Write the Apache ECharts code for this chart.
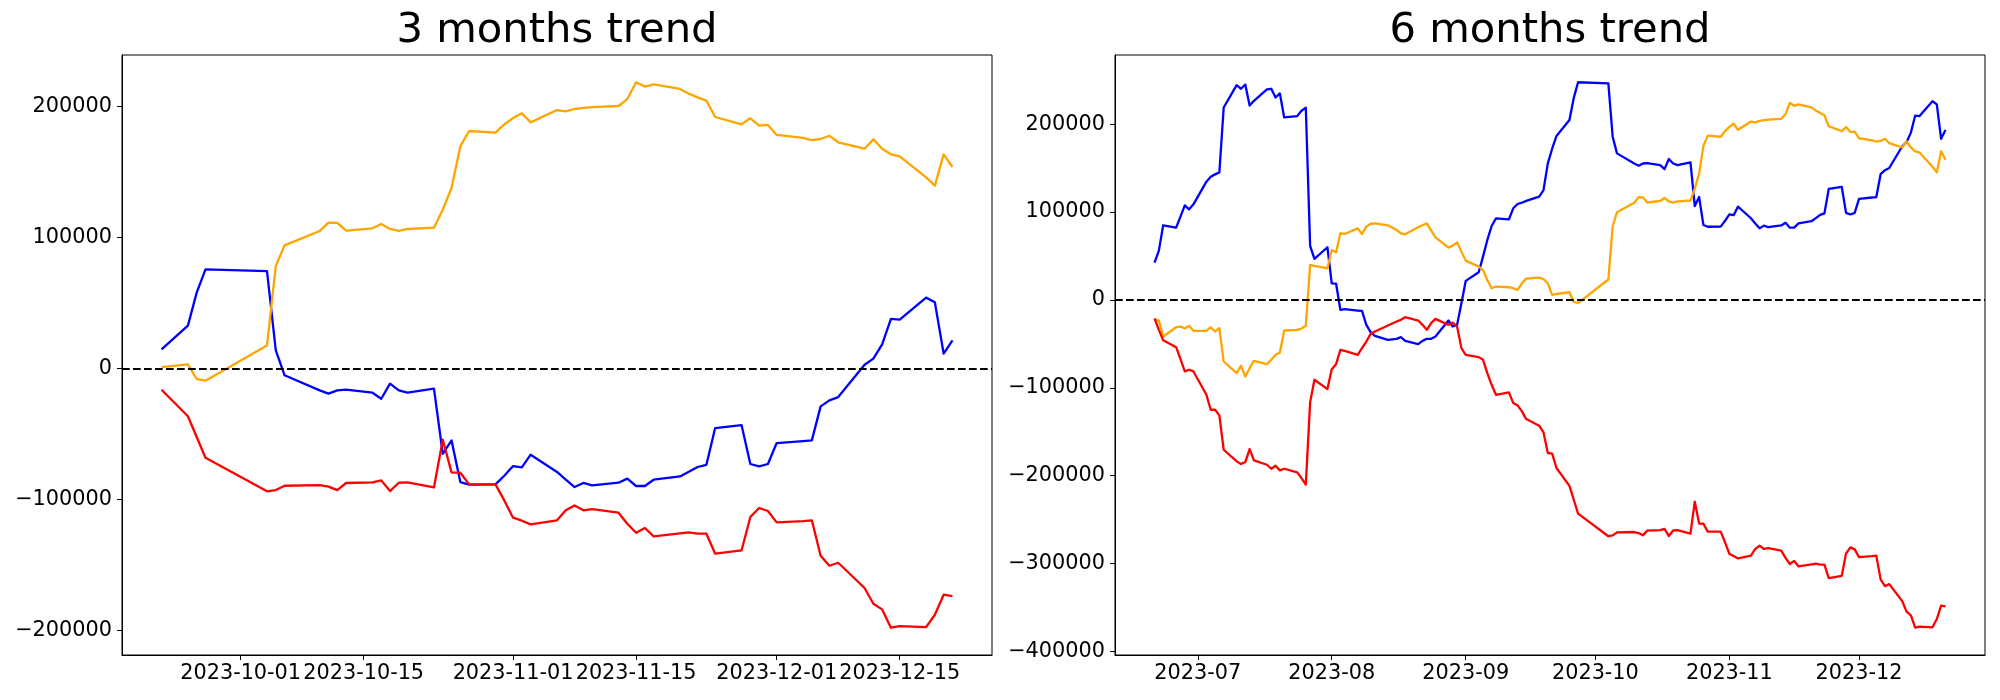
<!DOCTYPE html>
<html>
<head>
<meta charset="utf-8">
<script src="https://cdn.jsdelivr.net/npm/echarts@6/dist/echarts.min.js"></script>
<style>
html,body{margin:0;padding:0;background:#ffffff;}
#chart{width:2000px;height:700px;}
</style>
</head>
<body>
<div id="chart"></div>
<script>
// ---------------- data ----------------
const titles = ['3 months trend', '6 months trend'];

const dates3m = ['2023-09-22','2023-09-25','2023-09-26','2023-09-27','2023-10-04','2023-10-05','2023-10-06','2023-10-10','2023-10-11','2023-10-12','2023-10-13','2023-10-16','2023-10-17','2023-10-18','2023-10-19','2023-10-20','2023-10-23','2023-10-24','2023-10-25','2023-10-26','2023-10-27','2023-10-30','2023-10-31','2023-11-01','2023-11-02','2023-11-03','2023-11-06','2023-11-07','2023-11-08','2023-11-09','2023-11-10','2023-11-13','2023-11-14','2023-11-15','2023-11-16','2023-11-17','2023-11-20','2023-11-21','2023-11-22','2023-11-23','2023-11-24','2023-11-27','2023-11-28','2023-11-29','2023-11-30','2023-12-01','2023-12-04','2023-12-05','2023-12-06','2023-12-07','2023-12-08','2023-12-11','2023-12-12','2023-12-13','2023-12-14','2023-12-15','2023-12-18','2023-12-19','2023-12-20','2023-12-21'];

const blue3m = [14500,32600,57800,75600,74300,13700,-5300,-16800,-19300,-16800,-16300,-18600,-23200,-11700,-16800,-18600,-15500,-65200,-55000,-86800,-88800,-88600,-82000,-74600,-75600,-65900,-79100,-85000,-90600,-87500,-89300,-87300,-84200,-89800,-89800,-85000,-82500,-78900,-75300,-73600,-45600,-43300,-73000,-74800,-73000,-57000,-55500,-55000,-29000,-24400,-21900,2800,7400,18300,37700,37200,54000,50400,11200,21400];

const orange3m = [1000,3000,-8100,-9400,17500,78100,93900,104900,111200,111000,105100,106900,110200,106400,104900,106400,107400,121000,137700,169500,181200,179900,186300,191100,194700,187800,197200,196200,198000,198800,199500,200300,205600,218400,215100,216800,213300,209700,206900,204400,191900,186300,190900,185300,185800,178200,175900,174300,175100,177600,172600,167700,174800,167700,163400,161900,145800,139500,163400,153700];

const red3m = [-16300,-36600,-52400,-68200,-93900,-92900,-89600,-89100,-90300,-92900,-87500,-87000,-85500,-93700,-87300,-87000,-90900,-54500,-79400,-79700,-88600,-88600,-100800,-114000,-116300,-119100,-116000,-108400,-104600,-108400,-107400,-110200,-118600,-125500,-121900,-128300,-126000,-125200,-126200,-126200,-141500,-139000,-113500,-106600,-108900,-117600,-116600,-116000,-143000,-150700,-148400,-167700,-179700,-184000,-198000,-196700,-197500,-188100,-172800,-173800];

const dates6m = ['2023-06-21','2023-06-22','2023-06-23','2023-06-26','2023-06-27','2023-06-28','2023-06-29','2023-06-30',
'2023-07-03','2023-07-04','2023-07-05','2023-07-06','2023-07-07','2023-07-10','2023-07-11','2023-07-12','2023-07-13','2023-07-14','2023-07-17','2023-07-18','2023-07-19','2023-07-20','2023-07-21','2023-07-24','2023-07-25','2023-07-26','2023-07-27','2023-07-28','2023-07-31',
'2023-08-01','2023-08-02','2023-08-03','2023-08-04','2023-08-07','2023-08-08','2023-08-09','2023-08-10','2023-08-11','2023-08-14','2023-08-16','2023-08-17','2023-08-18','2023-08-21','2023-08-22','2023-08-23','2023-08-24','2023-08-25','2023-08-28','2023-08-29','2023-08-30','2023-08-31',
'2023-09-01','2023-09-04','2023-09-05','2023-09-06','2023-09-07','2023-09-08','2023-09-11','2023-09-12','2023-09-13','2023-09-14','2023-09-15','2023-09-18','2023-09-19','2023-09-20','2023-09-21',
'2023-09-22','2023-09-25','2023-09-26','2023-09-27','2023-10-04','2023-10-05','2023-10-06','2023-10-10','2023-10-11','2023-10-12','2023-10-13','2023-10-16','2023-10-17','2023-10-18','2023-10-19','2023-10-20','2023-10-23','2023-10-24','2023-10-25','2023-10-26','2023-10-27','2023-10-30','2023-10-31','2023-11-01','2023-11-02','2023-11-03','2023-11-06','2023-11-07','2023-11-08','2023-11-09','2023-11-10','2023-11-13','2023-11-14','2023-11-15','2023-11-16','2023-11-17','2023-11-20','2023-11-21','2023-11-22','2023-11-23','2023-11-24','2023-11-27','2023-11-28','2023-11-29','2023-11-30','2023-12-01','2023-12-04','2023-12-05','2023-12-06','2023-12-07','2023-12-08','2023-12-11','2023-12-12','2023-12-13','2023-12-14','2023-12-15','2023-12-18','2023-12-19','2023-12-20','2023-12-21'];

const blue6m = [42400,56100,84900,82200,94700,107600,103000,108700,
134500,140200,142800,145100,218900,244300,240200,245100,221200,226500,239400,240200,230300,234900,207600,209100,215200,218600,61400,46600,59900,
18900,18600,-11400,-10600,-12100,-12500,-28400,-36700,-40900,-45500,-44300,-42400,-46600,-50400,-46600,-44300,-44300,-41700,-23500,-30300,-28400,-3800,
21600,31400,49200,68200,84100,92800,91700,104200,109100,110600,112700,117400,125000,155300,172000,
186500,204600,229800,247600,246300,185700,166700,155200,152700,155200,155700,153400,148800,160300,155200,153400,156500,106800,117000,85200,83200,83400,90000,97400,96400,106100,92900,87000,81400,84500,82700,84700,87800,82200,82200,87000,89500,93100,96700,98400,126400,128700,99000,97200,99000,115000,116500,117000,143000,147600,150100,174800,179400,190300,209700,209200,226000,222400,183200,193400];

const orange6m = [-22000,-23500,-41700,-31100,-30300,-32600,-29500,-35200,
-35200,-31100,-36000,-32200,-70100,-83300,-75000,-87100,-77700,-69300,-73100,-68200,-62500,-59800,-34800,-34100,-32600,-29500,39800,38600,36000,
56800,54200,75800,75000,81400,75000,83300,86700,87100,84900,79500,75800,74600,82600,84900,87100,79200,71200,59500,61700,65500,54900,
44700,37900,34100,22700,13300,15200,14400,13300,11400,18900,24200,25400,23500,18900,5700,
6700,8700,-2400,-3700,23200,83800,99600,110600,116900,116700,110800,112600,115900,112100,110600,112100,113100,126700,143400,175200,186900,185600,192000,196800,200400,193500,202900,201900,203700,204500,205200,206000,211300,224100,220800,222500,219000,215400,212600,210100,197600,192000,196600,191000,191500,183900,181600,180000,180800,183300,178300,173400,180500,173400,169100,167600,151500,145200,169100,159400];

const red6m = [-21000,-34100,-46000,-53800,-67400,-81400,-79500,-81400,
-108000,-125000,-125000,-131400,-170500,-183700,-186800,-184500,-169700,-182600,-187600,-192100,-188700,-194000,-192100,-196300,-202700,-210100,-116300,-90900,-101500,
-78800,-73100,-56800,-58000,-62500,-55000,-47400,-38600,-36000,-29200,-24600,-22700,-19700,-23500,-28400,-34100,-26500,-21600,-28400,-25800,-30300,-54900,
-62500,-65100,-68200,-83300,-96600,-108000,-105300,-117400,-120100,-126900,-135600,-143100,-150800,-174200,-175000,
-191300,-211600,-227400,-243200,-268900,-267900,-264600,-264100,-265300,-267900,-262500,-262000,-260500,-268700,-262300,-262000,-265900,-229500,-254400,-254700,-263600,-263600,-275800,-289000,-291300,-294100,-291000,-283400,-279600,-283400,-282400,-285200,-293600,-300500,-296900,-303300,-301000,-300200,-301200,-301200,-316500,-314000,-288500,-281600,-283900,-292600,-291600,-291000,-318000,-325700,-323400,-342700,-354700,-359000,-373000,-371700,-372500,-363100,-347800,-348800];

const xTicks3m = ['2023-10-01','2023-10-15','2023-11-01','2023-11-15','2023-12-01','2023-12-15'];
const xTicks6m = ['2023-07-01','2023-08-01','2023-09-01','2023-10-01','2023-11-01','2023-12-01'];
const yTicks3m = [-200000,-100000,0,100000,200000];
const yTicks6m = [-400000,-300000,-200000,-100000,0,100000,200000];

// ---------------- helpers ----------------
const FONT = 'DejaVu Sans';
function ts(s){ return Date.parse(s + 'T00:00:00Z'); }
function pairs(dates, vals){ return dates.map(function(d,i){ return [ts(d), vals[i]]; }); }
function xRange(dates){
  const a = ts(dates[0]), b = ts(dates[dates.length-1]);
  const m = (b - a) * 0.05;
  return [a - m, b + m];
}
function yRange(arrs){
  let lo = Infinity, hi = -Infinity;
  arrs.forEach(function(a){ a.forEach(function(v){ if (v < lo) lo = v; if (v > hi) hi = v; }); });
  const m = (hi - lo) * 0.05;
  return [lo - m, hi + m];
}
function yFmt(v){ return v < 0 ? '\u2212' + Math.abs(v) : String(v); }
function dayFmt(v){ return new Date(v).toISOString().slice(0,10); }
function monFmt(v){ return new Date(v).toISOString().slice(0,7); }

const GRIDS = [
  {left:122, top:55, width:870, height:600},
  {left:1115, top:55, width:870, height:600}
];

const panels = [
  {dates:dates3m, blue:blue3m, orange:orange3m, red:red3m, xt:xTicks3m, yt:yTicks3m, fmt:dayFmt},
  {dates:dates6m, blue:blue6m, orange:orange6m, red:red6m, xt:xTicks6m, yt:yTicks6m, fmt:monFmt}
];

const labelStyle = {fontFamily:FONT, fontSize:20.8, color:'#000000'};

const option = {
  animation:false,
  backgroundColor:'#ffffff',
  grid: GRIDS.map(function(g){ return Object.assign({show:true, borderColor:'#000000', borderWidth:1, backgroundColor:'transparent', containLabel:false}, g); }),
  xAxis: panels.map(function(p, i){
    const r = xRange(p.dates);
    const tv = p.xt.map(ts);
    return {
      type:'value', gridIndex:i, min:r[0], max:r[1], scale:true,
      axisLine:{show:true, onZero:false, lineStyle:{color:'#000000', width:1}},
      axisTick:{show:true, length:5, inside:false, lineStyle:{color:'#000000', width:1}, customValues:tv},
      axisLabel:Object.assign({show:true, margin:8, lineHeight:20.8, customValues:tv, formatter:p.fmt, hideOverlap:false, showMinLabel:true, showMaxLabel:true}, labelStyle),
      splitLine:{show:false}, minorTick:{show:false}
    };
  }),
  yAxis: panels.map(function(p, i){
    const r = yRange([p.blue, p.orange, p.red]);
    return {
      type:'value', gridIndex:i, min:r[0], max:r[1], scale:true,
      axisLine:{show:true, onZero:false, lineStyle:{color:'#000000', width:1}},
      axisTick:{show:true, length:5, inside:false, lineStyle:{color:'#000000', width:1}, customValues:p.yt},
      axisLabel:Object.assign({show:true, margin:10, customValues:p.yt, formatter:yFmt, showMinLabel:true, showMaxLabel:true}, labelStyle),
      splitLine:{show:false}
    };
  }),
  graphic: titles.map(function(t, i){
    const g = GRIDS[i];
    return {type:'text', x:g.left + g.width/2, y:31.3, silent:true,
      style:{text:t, fill:'#000000', fontFamily:FONT, fontSize:41.7, align:'center', verticalAlign:'middle'}};
  }),
  series: []
};

panels.forEach(function(p, i){
  [['blue','#0000ff'],['orange','#ffa500'],['red','#ff0000']].forEach(function(c, k){
    const s = {
      type:'line', name:c[0] + (i ? '6m' : '3m'), xAxisIndex:i, yAxisIndex:i,
      data:pairs(p.dates, p[c[0]]), showSymbol:false, symbol:'none',
      lineStyle:{color:c[1], width:2.3, join:'round', cap:'butt'},
      itemStyle:{color:c[1]}, z:2
    };
    if (k === 2) {
      s.markLine = {silent:true, symbol:['none','none'], label:{show:false}, animation:false,
        lineStyle:{color:'#000000', type:[7.7,3.3], width:2.1}, data:[{yAxis:0}]};
    }
    option.series.push(s);
  });
});

const chart = echarts.init(document.getElementById('chart'), null, {renderer:'canvas', width:2000, height:700});
chart.setOption(option);
</script>
</body>
</html>
